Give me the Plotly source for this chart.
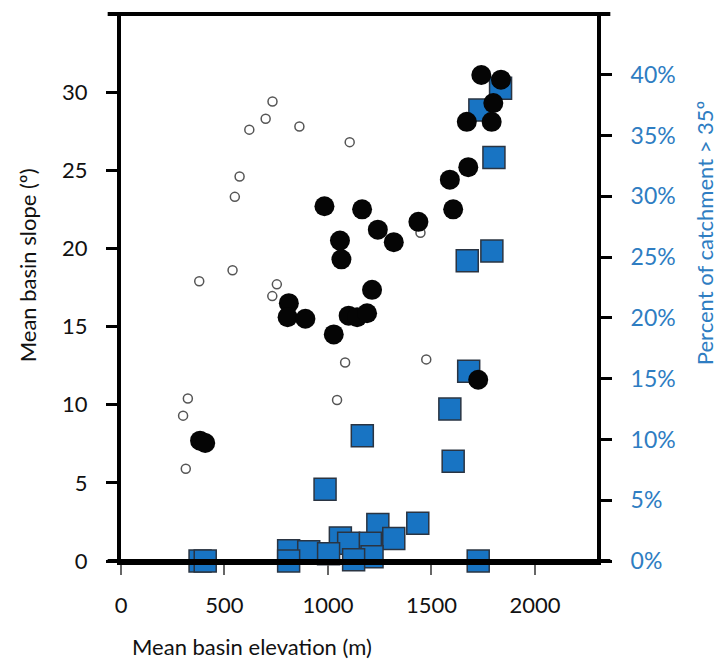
import plotly.graph_objects as go

# Open circles: other basins (elevation m, slope deg)
open_elev = [732, 699, 620, 862, 1105, 573, 550, 1447, 539, 378, 753, 731, 1083, 1475, 1044, 323, 300, 313]
open_slope = [29.4, 28.3, 27.6, 27.8, 26.8, 24.6, 23.3, 21.0, 18.6, 17.9, 17.7, 16.95, 12.7, 12.9, 10.3, 10.4, 9.3, 5.9]

# Filled circles: study basins (elevation m, slope deg)
fill_elev = [1741, 1836, 1799, 1671, 1791, 1678, 1589, 983, 1165, 1605, 1437, 1241, 1318, 1058, 1065,
             1213, 811, 805, 891, 1028, 1100, 1141, 1189, 382, 407, 1726]
fill_slope = [31.1, 30.8, 29.3, 28.1, 28.1, 25.2, 24.4, 22.7, 22.5, 22.5, 21.7, 21.2, 20.4, 20.5, 19.3,
              17.35, 16.5, 15.6, 15.5, 14.5, 15.7, 15.6, 15.85, 7.7, 7.55, 11.6]

# Squares: percent of catchment > 35 deg
sq_elev = [1834, 1734, 1802, 1792, 1673, 1680, 1589, 1166, 1605, 986, 1434, 1241, 1318, 1060, 1100,
           1205, 810, 907, 1003, 1213, 1124, 810, 382, 407, 1726]
sq_pct = [38.9, 37.1, 33.2, 25.5, 24.7, 15.6, 12.5, 10.3, 8.2, 5.9, 3.1, 3.0, 1.85, 1.9, 1.45,
          1.45, 0.85, 0.77, 0.6, 0.35, 0.1, 0.0, 0.0, 0.0, 0.0]

x_ticks = [0, 500, 1000, 1500, 2000]
slope_ticks = [0, 5, 10, 15, 20, 25, 30]
pct_ticks = [0, 5, 10, 15, 20, 25, 30, 35, 40]
pct_labels = [f"{v}%" for v in pct_ticks]

BLUE = "#2E7DC2"
FONT = "Lato"

fig = go.Figure()
fig.add_trace(go.Scatter(x=sq_elev, y=sq_pct, mode="markers", yaxis="y",
                         marker=dict(symbol="square", size=22, color="#1874C3",
                                     line=dict(color="#2a3442", width=1.5)),
                         showlegend=False, cliponaxis=False))
fig.add_trace(go.Scatter(x=open_elev, y=open_slope, mode="markers", yaxis="y2",
                         marker=dict(symbol="circle", size=9, color="white",
                                     line=dict(color="#555555", width=1.5)),
                         showlegend=False, cliponaxis=False))
fig.add_trace(go.Scatter(x=fill_elev, y=fill_slope, mode="markers", yaxis="y2",
                         marker=dict(symbol="circle", size=20, color="#050505",
                                     line=dict(color="#050505", width=0)),
                         showlegend=False, cliponaxis=False))

fig.update_layout(
    width=709, height=651,
    margin=dict(l=113, r=120, t=6, b=98),
    paper_bgcolor="white", plot_bgcolor="white",
    font=dict(family=FONT, size=21, color="#111111"),
    xaxis=dict(range=[0, 2300], tickvals=x_ticks, showgrid=False, zeroline=False,
               showline=True, linecolor="black", linewidth=4,
               ticks="outside", ticklen=10, tickwidth=2, tickcolor="#666666",
               ticklabelstandoff=12, tickfont=dict(size=22, color="#111111")),
    yaxis=dict(range=[0, 45], tickvals=pct_ticks, ticktext=pct_labels, side="right",
               showgrid=False, zeroline=False, showline=True, linecolor="black", linewidth=4,
               ticks="outside", ticklen=11, tickwidth=3, tickcolor="black",
               ticklabelstandoff=14, tickfont=dict(size=23, color=BLUE)),
    yaxis2=dict(range=[0, 35], tickvals=slope_ticks, side="left", overlaying="y",
                showgrid=False, zeroline=False, showline=True, linecolor="black", linewidth=4,
                ticks="outside", ticklen=11, tickwidth=3, tickcolor="black",
                ticklabelstandoff=14, tickfont=dict(size=22, color="#111111")),
    shapes=[
        dict(type="line", xref="paper", yref="paper", x0=-0.028, x1=1.028, y0=1, y1=1,
             line=dict(color="black", width=4)),
        dict(type="line", xref="paper", yref="paper", x0=-0.028, x1=1.028, y0=0, y1=0,
             line=dict(color="black", width=4)),
    ],
    annotations=[
        dict(text="Mean basin elevation (m)", xref="paper", yref="paper", x=0.275, y=-0.156,
             showarrow=False, font=dict(size=22, color="#111111"), height=25,
             xanchor="center", yanchor="middle"),
        dict(text="Mean basin slope (º)", xref="paper", yref="paper", x=-0.197, y=0.541,
             showarrow=False, textangle=-90, font=dict(size=22, color="#111111"),
             xanchor="center", yanchor="middle"),
        dict(text="Percent of catchment > 35º", xref="paper", yref="paper", x=1.2255, y=0.600,
             showarrow=False, textangle=-90, font=dict(size=22, color=BLUE), height=23,
             xanchor="center", yanchor="middle"),
    ],
)

fig.write_html("out.html")
